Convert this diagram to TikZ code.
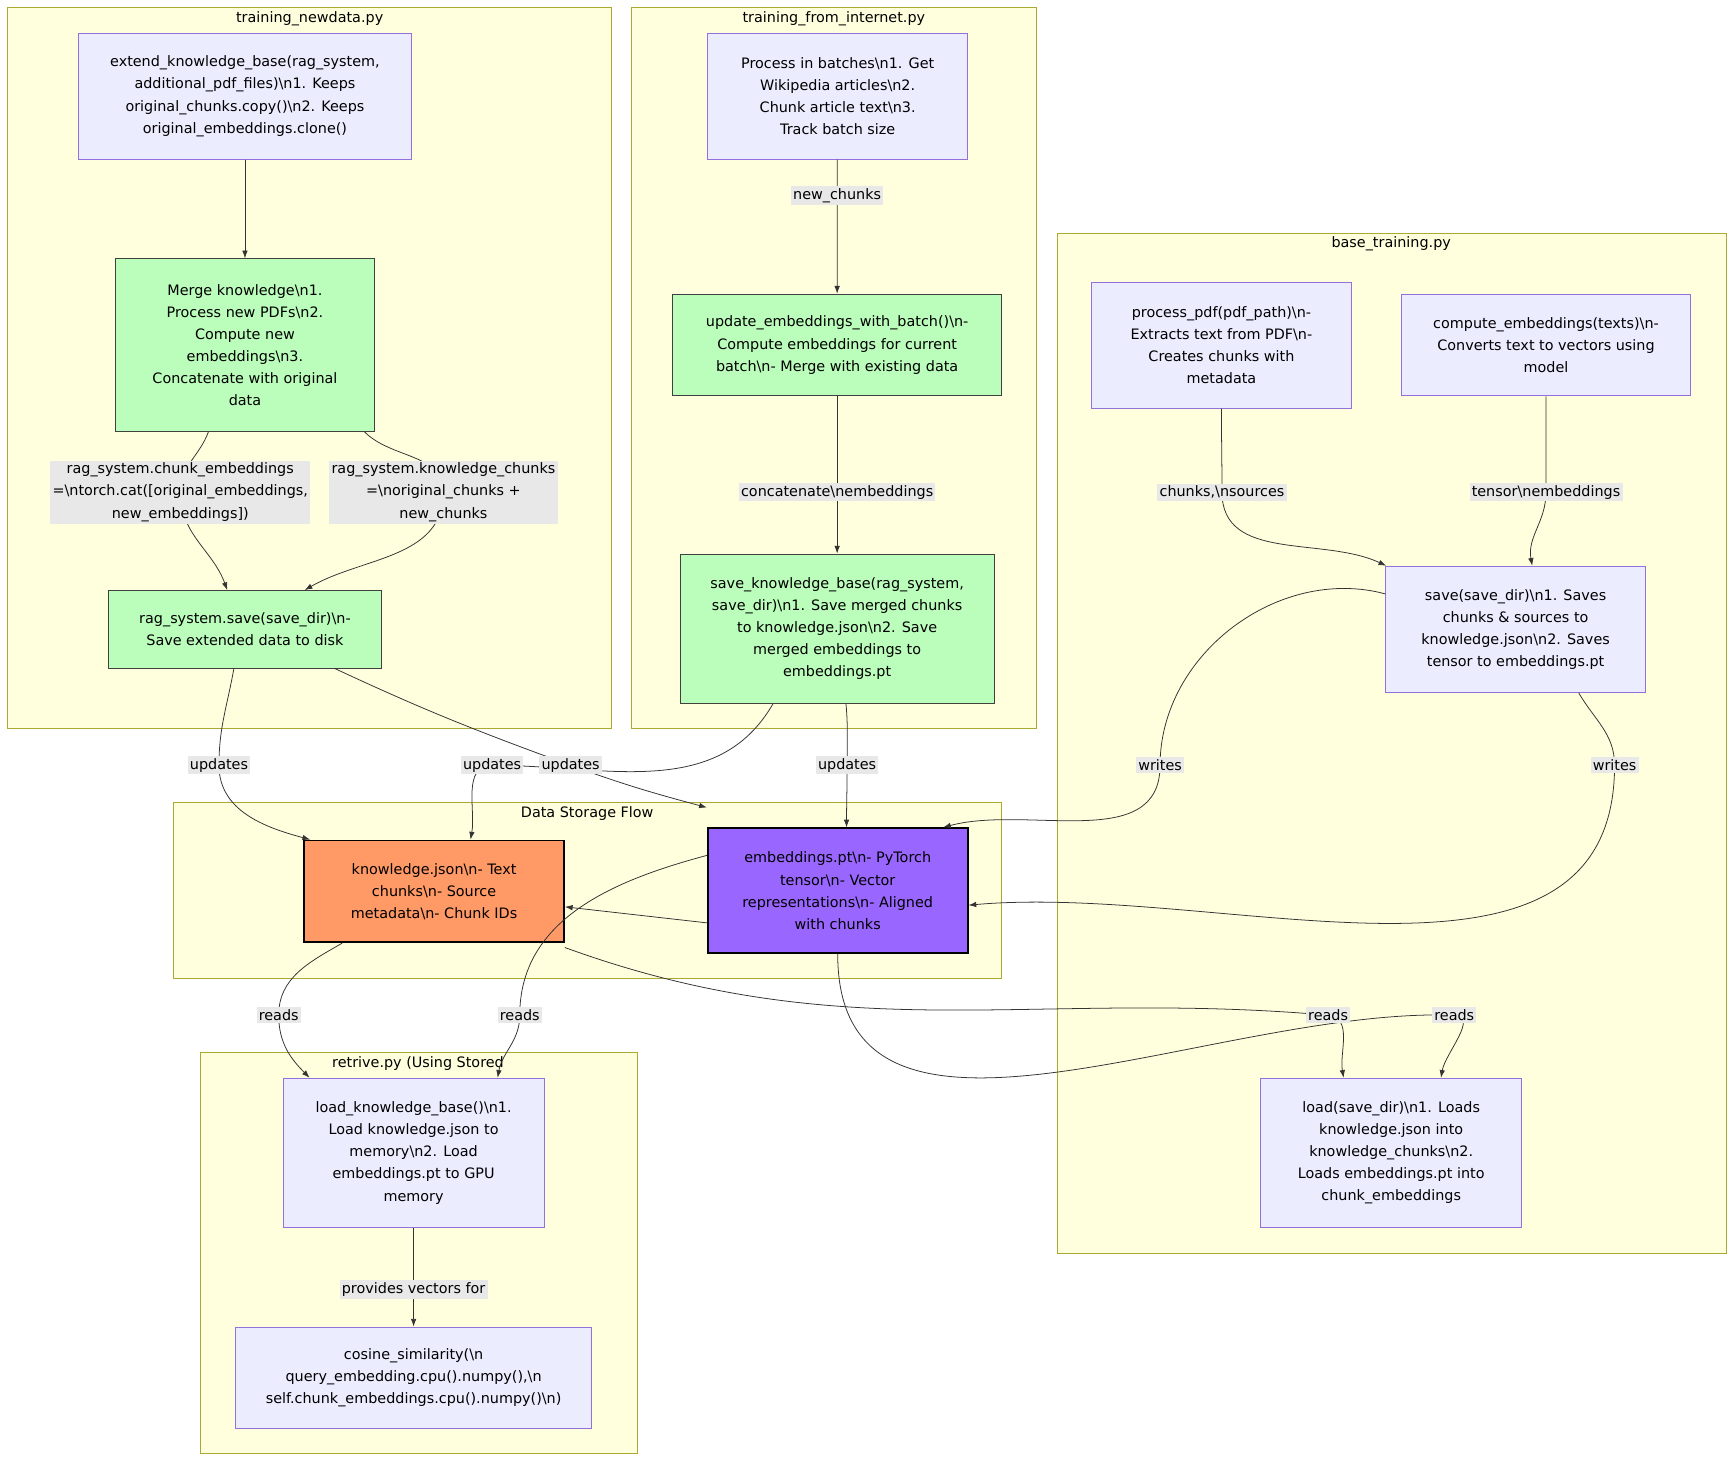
\documentclass[tikz,border=0pt]{standalone}
\usepackage{fontspec}
\setmainfont{DejaVu Sans}
\usetikzlibrary{arrows.meta}
\newcommand\bn{\textbackslash n}
\definecolor{clf}{HTML}{FFFFDE}\definecolor{cls}{HTML}{AAAA33}
\definecolor{nf}{HTML}{ECECFF}\definecolor{ns}{HTML}{9370DB}
\definecolor{gf}{HTML}{BBFDBB}\definecolor{lb}{HTML}{E8E8E8}
\definecolor{of}{HTML}{FF9966}\definecolor{pf}{HTML}{9966FF}
\begin{document}
\begin{tikzpicture}[x=1pt,y=-1pt,font=\fontsize{13}{20}\selectfont,
 cl/.style={draw=cls,fill=clf,line width=0.8pt},
 ctitle/.style={anchor=north,inner sep=2pt},
 nd/.style={draw=ns,fill=nf,line width=0.8pt,align=center,inner sep=4pt},
 gn/.style={draw=black!75,fill=gf,line width=0.8pt,align=center,inner sep=4pt},
 e/.style={draw=black!80,line width=0.7pt,-{Latex[length=7pt,width=5pt]}},
 el/.style={fill=lb,align=center,inner sep=2pt}]
\useasboundingbox (0,0) rectangle (1568,1322);
\fill[white] (0,0) rectangle (1568,1322);
% clusters
\draw[cl] (7,7) rectangle (553,659); \node[ctitle] (t1) at (280,8) {training\_newdata.py};
\draw[cl] (571,7) rectangle (937,659); \node[ctitle] (t2) at (754,8) {training\_from\_internet.py};
\draw[cl] (956,211) rectangle (1561,1133); \node[ctitle] (t3) at (1258,212) {base\_training.py};
\draw[cl] (157,726) rectangle (906,885); \node[ctitle] (t4) at (531,727) {Data Storage Flow};
\draw[cl] (181,952) rectangle (576,1314); \node[ctitle] (t5) at (378,953) {retrive.py (Using Stored};
% nodes
\node[nd,minimum width=301,minimum height=114] (n1) at (221.5,87) {extend\_knowledge\_base(rag\_system,\\additional\_pdf\_files)\bn1. Keeps\\original\_chunks.copy()\bn2. Keeps\\original\_embeddings.clone()};
\node[gn,minimum width=235,minimum height=156] (mg) at (221.5,312) {Merge knowledge\bn1.\\Process new PDFs\bn2.\\Compute new\\embeddings\bn3.\\Concatenate with original\\data};
\node[gn,minimum width=247,minimum height=70] (s1) at (221.5,569) {rag\_system.save(save\_dir)\bn-\\Save extended data to disk};
\node[nd,minimum width=235,minimum height=114] (p1) at (757.5,87) {Process in batches\bn1. Get\\Wikipedia articles\bn2.\\Chunk article text\bn3.\\Track batch size};
\node[gn,minimum width=298,minimum height=92] (up) at (757,312) {update\_embeddings\_with\_batch()\bn-\\Compute embeddings for current\\batch\bn- Merge with existing data};
\node[gn,minimum width=284,minimum height=135] (sk) at (757,568.5) {save\_knowledge\_base(rag\_system,\\save\_dir)\bn1. Save merged chunks\\to knowledge.json\bn2. Save\\merged embeddings to\\embeddings.pt};
\node[nd,minimum width=235,minimum height=114] (pp) at (1104.5,312) {process\_pdf(pdf\_path)\bn-\\Extracts text from PDF\bn-\\Creates chunks with\\metadata};
\node[nd,minimum width=262,minimum height=92] (ce) at (1398,312) {compute\_embeddings(texts)\bn-\\Converts text to vectors using\\model};
\node[nd,minimum width=235,minimum height=114] (sv) at (1370.5,569) {save(save\_dir)\bn1. Saves\\chunks \& sources to\\knowledge.json\bn2. Saves\\tensor to embeddings.pt};
\node[nd,minimum width=236,minimum height=135] (ld) at (1258,1042.5) {load(save\_dir)\bn1. Loads\\knowledge.json into\\knowledge\_chunks\bn2.\\Loads embeddings.pt into\\chunk\_embeddings};
\node[draw=black,line width=1.6pt,fill=of,align=center,minimum width=235,minimum height=92] (kj) at (392.5,806) {knowledge.json\bn- Text\\chunks\bn- Source\\metadata\bn- Chunk IDs};
\node[draw=black,line width=1.6pt,fill=pf,align=center,minimum width=235,minimum height=113] (em) at (757.5,805.5) {embeddings.pt\bn- PyTorch\\tensor\bn- Vector\\representations\bn- Aligned\\with chunks};
\node[nd,minimum width=236,minimum height=135] (lk) at (374,1042.5) {load\_knowledge\_base()\bn1.\\Load knowledge.json to\\memory\bn2. Load\\embeddings.pt to GPU\\memory};
\node[nd,minimum width=322,minimum height=92] (cs) at (374,1246) {cosine\_similarity(\bn\\query\_embedding.cpu().numpy(),\bn\\self.chunk\_embeddings.cpu().numpy()\bn)};
% coordinates
\coordinate (l1) at (163,445); \coordinate (l2) at (401,445);
\coordinate (l3) at (757,177); \coordinate (l4) at (757,445);
\coordinate (l5) at (1105,445); \coordinate (l6) at (1398,445);
\coordinate (u1) at (198,692); \coordinate (u2) at (516,692);
\coordinate (u3) at (445,692); \coordinate (u4) at (766,692);
\coordinate (w1) at (1049,692); \coordinate (w2) at (1460,692);
\coordinate (r1) at (252,918); \coordinate (r2) at (470,918);
\coordinate (r3) at (1201,918); \coordinate (r4) at (1315,918);
\coordinate (l7) at (374,1166);
% edges
\draw[e] (n1) -- (mg);
\draw[e] ([xshift=-33]mg.south) to[out=-110,in=90] (l1) to[out=-90,in=110] ([xshift=-16]s1.north);
\draw[e] ([xshift=108]mg.south) to[out=-45,in=90] (l2) to[out=-90,in=30] ([xshift=54]s1.north);
\draw[e] (p1) -- (l3) -- (up);
\draw[e] (up) -- (l4) -- (sk);
\draw[e] (pp.south) to[out=-90,in=90] (l5) to[out=-90,in=155] ([xshift=-117]sv.north);
\draw[e] (ce.south) to[out=-90,in=90] (l6) to[out=-90,in=100] ([xshift=15]sv.north);
\draw[e] ([xshift=-10]s1.south) to[out=-100,in=90] (u1) to[out=-90,in=165] ([xshift=-112]kj.north);
\draw[e] ([xshift=81]s1.south) to[out=-25,in=160] (u2) to[out=-20,in=165] ([yshift=18]em.north west);
\draw[e] ([xshift=-58]sk.south) to[out=-120,in=0] (u3) to[out=180,in=80] ([xshift=33]kj.north);
\draw[e] ([xshift=8]sk.south) to[out=-85,in=90] (u4) to[out=-90,in=90] ([xshift=8]em.north);
\draw[e] ([yshift=32]sv.west) to[out=165,in=90] (w1) to[out=-90,in=15] ([xshift=-23]em.north east);
\draw[e] ([xshift=57]sv.south) to[out=-60,in=90] (w2) to[out=-90,in=5] ([yshift=-13]em.east);
\draw[e] ([yshift=-29]em.west) -- ([yshift=-14]kj.east);
\draw[e] ([xshift=-83]kj.south) to[out=-150,in=90] (r1) to[out=-90,in=135] ([xshift=-94]lk.north);
\draw[e] ([yshift=32]em.west) to[out=195,in=90] (r2) to[out=-90,in=80] ([xshift=76]lk.north);
\draw[e] ([yshift=-4]kj.south east) to[out=-20,in=175] (r3) to[out=-5,in=100] ([xshift=-43]ld.north);
\draw[e] (em.south) to[out=-90,in=178] (r4) to[out=-2,in=80] ([xshift=45]ld.north);
\draw[e] (lk) -- (l7) -- (cs);
% labels
\node[el] (a1) at (l1) {rag\_system.chunk\_embeddings\\=\bn torch.cat([original\_embeddings,\\new\_embeddings])};
\node[el] (a2) at (l2) {rag\_system.knowledge\_chunks\\=\bn original\_chunks +\\new\_chunks};
\node[el] (a3) at (l3) {new\_chunks};
\node[el] (a4) at (l4) {concatenate\bn embeddings};
\node[el] (a5) at (l5) {chunks,\bn sources};
\node[el] (a6) at (l6) {tensor\bn embeddings};
\node[el] (b1) at (u1) {updates}; \node[el] (b2) at (u2) {updates};
\node[el] (b3) at (u3) {updates}; \node[el] (b4) at (u4) {updates};
\node[el] (c1) at (w1) {writes}; \node[el] (c2) at (w2) {writes};
\node[el] (d1) at (r1) {reads}; \node[el] (d2) at (r2) {reads};
\node[el] (d3) at (r3) {reads}; \node[el] (d4) at (r4) {reads};
\node[el] (a7) at (l7) {provides vectors for};
\end{tikzpicture}
\end{document}
